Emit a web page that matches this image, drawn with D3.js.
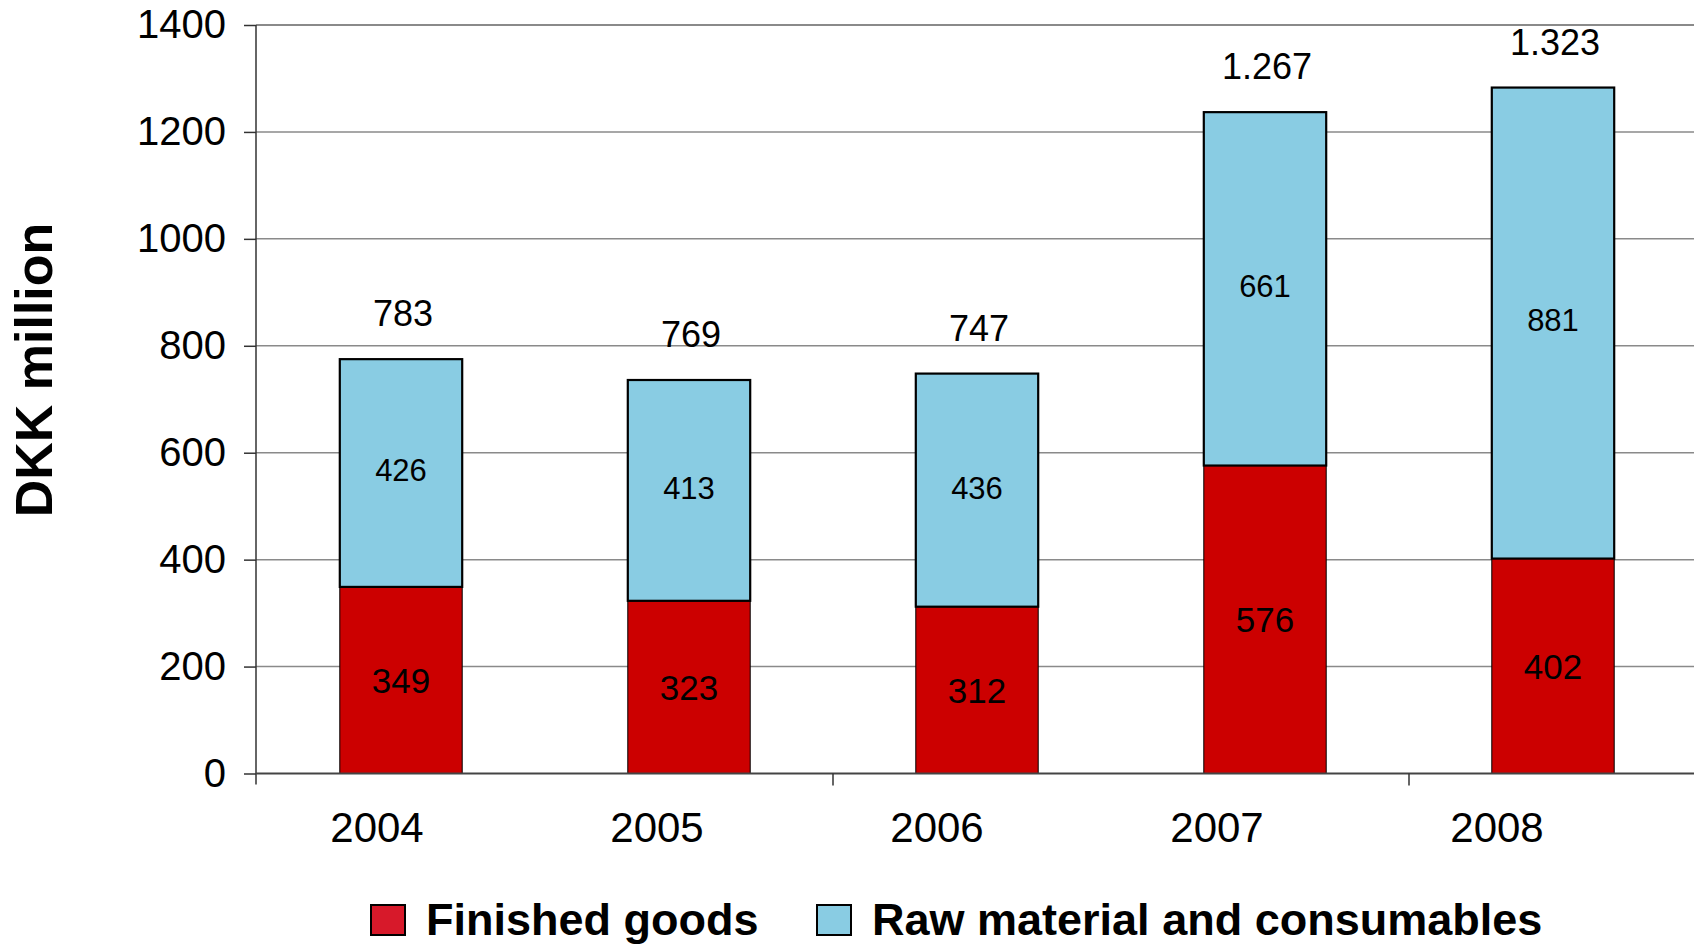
<!DOCTYPE html>
<html>
<head>
<meta charset="utf-8">
<script src="https://cdn.jsdelivr.net/npm/d3@7"></script>
<style>
  html, body { margin: 0; padding: 0; background: #fff; }
  svg { display: block; font-family: "Liberation Sans", Arial, sans-serif; }
</style>
</head>
<body>
<svg id="chart" width="1694" height="945"></svg>
<script>
// Inventories by year, DKK million
const years = ["2004", "2005", "2006", "2007", "2008"];
const finishedGoods = [349, 323, 312, 576, 402];
const rawMaterials = [426, 413, 436, 661, 881];
const totalLabels = ["783", "769", "747", "1.267", "1.323"];
const yTicks = [0, 200, 400, 600, 800, 1000, 1200, 1400];
const seriesNames = ["Finished goods", "Raw material and consumables"];

const plot = { left: 256, top: 25, bottom: 773.5, right: 1694 };

const svg = d3.select("#chart");

// one band per year; bars sit in the middle of each band
const band = d3.scaleBand().domain(years).range([257, 1697]);
const barW = band.bandwidth() * 0.425;
const barX = d => band(d) + (band.bandwidth() - barW) / 2;

// category labels run on a slightly tighter spacing
const labelBand = d3.scaleBand().domain(years).range([237, 1637]);

const y = d3.scaleLinear().domain([0, 1400]).range([plot.bottom, plot.top]);

// Horizontal gridlines
svg.append("g")
  .selectAll("line")
  .data(yTicks.filter(d => d > 0))
  .join("line")
  .attr("x1", plot.left)
  .attr("x2", plot.right)
  .attr("y1", d => y(d))
  .attr("y2", d => y(d))
  .attr("stroke", "#8a8a8a")
  .attr("stroke-width", d => d === 1400 ? 2 : 1.5);

// Stacked data
const rows = years.map((yr, i) => ({ year: yr, finished: finishedGoods[i], raw: rawMaterials[i], total: totalLabels[i] }));
const stack = d3.stack().keys(["finished", "raw"])(rows);
const fills = { finished: "#cc0000", raw: "#89cce3" };
const strokeW = { finished: 1, raw: 2.2 };

const barG = svg.append("g");
stack.forEach(layer => {
  barG.append("g")
    .selectAll("rect")
    .data(layer)
    .join("rect")
    .attr("x", d => barX(d.data.year))
    .attr("width", barW)
    .attr("y", d => y(d[1]))
    .attr("height", d => y(d[0]) - y(d[1]))
    .attr("fill", fills[layer.key])
    .attr("stroke", "#000")
    .attr("stroke-width", strokeW[layer.key]);
});

// Segment value labels
stack.forEach(layer => {
  barG.append("g")
    .selectAll("text")
    .data(layer)
    .join("text")
    .attr("x", d => barX(d.data.year) + barW / 2)
    .attr("y", d => (y(d[0]) + y(d[1])) / 2)
    .attr("dy", layer.key === "raw" ? "0.27em" : "0.36em")
    .attr("text-anchor", "middle")
    .attr("font-size", layer.key === "raw" ? 31 : 35)
    .attr("fill", "#000")
    .text(d => d.data[layer.key]);
});

// Total labels above the stacks
barG.append("g")
  .selectAll("text")
  .data(rows)
  .join("text")
  .attr("x", d => barX(d.year) + barW / 2 + 2)
  .attr("y", d => y(d.finished + d.raw) - 33)
  .attr("text-anchor", "middle")
  .attr("font-size", 36)
  .attr("fill", "#000")
  .text(d => d.total);

// Y axis
const yAxis = d3.axisLeft(y).tickValues(yTicks).tickSize(12).tickPadding(18).tickFormat(d3.format("d"));
const gy = svg.append("g").attr("transform", `translate(${plot.left},0)`).call(yAxis);
gy.select(".domain").remove();
gy.selectAll(".tick line").attr("stroke", "#333").attr("stroke-width", 1.5);
gy.selectAll(".tick text").attr("font-size", 40).attr("fill", "#000").attr("font-family", "Liberation Sans, Arial, sans-serif");
svg.append("line")
  .attr("x1", plot.left).attr("x2", plot.left)
  .attr("y1", y(1400)).attr("y2", plot.bottom + 11)
  .attr("stroke", "#333").attr("stroke-width", 1.5);

// X axis
svg.append("line")
  .attr("x1", plot.left).attr("x2", plot.right)
  .attr("y1", plot.bottom).attr("y2", plot.bottom)
  .attr("stroke", "#444").attr("stroke-width", 2);
// tick marks between every second pair of categories
svg.append("g")
  .selectAll("line")
  .data([years[2], years[4]])
  .join("line")
  .attr("x1", d => band(d)).attr("x2", d => band(d))
  .attr("y1", plot.bottom).attr("y2", plot.bottom + 12)
  .attr("stroke", "#333").attr("stroke-width", 1.5);
svg.append("g")
  .selectAll("text")
  .data(years)
  .join("text")
  .attr("x", d => labelBand(d) + labelBand.bandwidth() / 2)
  .attr("y", 842)
  .attr("text-anchor", "middle")
  .attr("font-size", 42)
  .attr("fill", "#000")
  .text(d => d);

// Y axis title
svg.append("text")
  .attr("transform", "translate(52,370) rotate(-90)")
  .attr("text-anchor", "middle")
  .attr("font-size", 52)
  .attr("font-weight", "bold")
  .attr("fill", "#000")
  .text("DKK million");

// Legend
const legendColors = ["#d7192a", "#89cce3"];
const legendX = [370, 816];
const lg = svg.append("g");
seriesNames.forEach((name, i) => {
  lg.append("rect")
    .attr("x", legendX[i] + 1).attr("y", 905)
    .attr("width", 34).attr("height", 30)
    .attr("fill", legendColors[i])
    .attr("stroke", "#000").attr("stroke-width", 2);
  lg.append("text")
    .attr("x", legendX[i] + 56).attr("y", 935)
    .attr("font-size", 45)
    .attr("font-weight", "bold")
    .attr("fill", "#000")
    .text(name);
});
</script>
</body>
</html>
